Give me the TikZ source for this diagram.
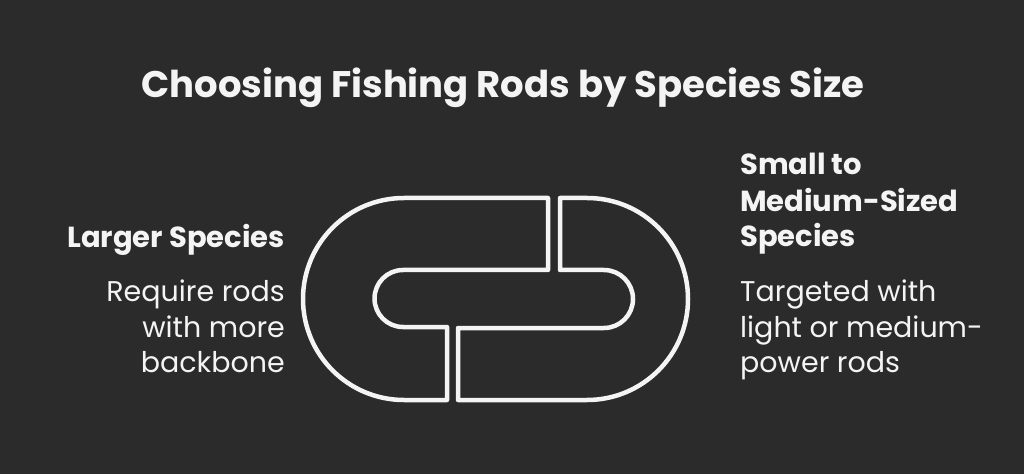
\documentclass[tikz,border=0pt]{standalone}
\usepackage{fontspec}
\setmainfont{Poppins}
\definecolor{bg}{HTML}{2B2B2B}
\definecolor{fg}{HTML}{F4F4F4}
\begin{document}
\begin{tikzpicture}[x=1pt,y=1pt,
  link/.style={draw=fg,line width=4.5pt,line join=round},
  title/.style={text=fg,font=\fontsize{37}{44}\selectfont\bfseries,inner sep=0pt},
  head/.style={text=fg,font=\fontsize{29}{35}\selectfont\bfseries,inner sep=0pt},
  body/.style={text=fg,font=\fontsize{28.5}{35}\selectfont,inner sep=0pt}]
\fill[bg] (0,0) rectangle (1024,474);
\useasboundingbox (0,0) rectangle (1024,474);
% left link
\draw[link] (548,276) -- (404,276) arc[start angle=90,end angle=270,radius=101]
  -- (447,74) -- (447,147) -- (403,147) arc[start angle=270,end angle=90,radius=28.5]
  -- (548,204) -- cycle;
% right link
\draw[link] (560,276) -- (587,276) arc[start angle=90,end angle=-90,radius=101]
  -- (458,74) -- (458,146) -- (604,146) arc[start angle=-90,end angle=90,radius=29]
  -- (560,204) -- cycle;
\node[title,anchor=base] (t) at (503,376) {Choosing Fishing Rods by Species Size};
\node[head,anchor=base east] (lh) at (285,226) {Larger Species};
\node[body,anchor=base east] (l1) at (285,172) {Require rods};
\node[body,anchor=base east] (l2) at (285,137) {with more};
\node[body,anchor=base east] (l3) at (285,102) {backbone};
\node[head,anchor=base west] (rh1) at (740,299) {Small to};
\node[head,anchor=base west] (rh2) at (740,262) {Medium-Sized};
\node[head,anchor=base west] (rh3) at (740,227) {Species};
\node[body,anchor=base west] (r1) at (740,172) {Targeted with};
\node[body,anchor=base west] (r2) at (740,137) {light or medium-};
\node[body,anchor=base west] (r3) at (740,102) {power rods};
\end{tikzpicture}
\end{document}
